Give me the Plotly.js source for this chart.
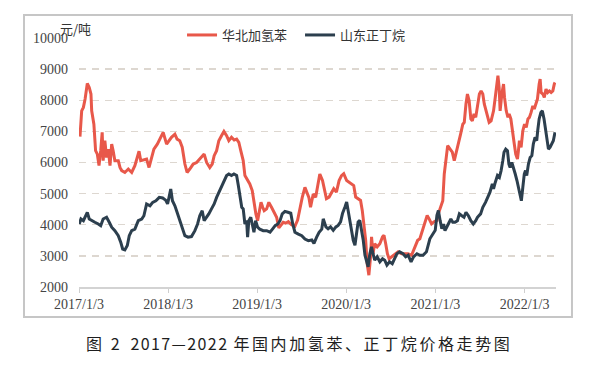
<!DOCTYPE html>
<html>
<head>
<meta charset="utf-8">
<script src="https://cdn.plot.ly/plotly-3.0.1.min.js"></script>
<style>html,body{margin:0;padding:0;background:#fff;}#chart{width:591px;height:372px;}</style>
</head>
<body>
<div id="chart"></div>
<script>
// 华北加氢苯 (North China hydrobenzene), 元/吨
const hbDates = [
"2017-01-07","2017-01-14","2017-01-21","2017-01-28","2017-02-06","2017-02-14","2017-02-21","2017-02-24","2017-03-05","2017-03-12",
"2017-03-19","2017-03-26","2017-04-02","2017-04-08","2017-04-12","2017-04-19","2017-04-26","2017-05-03","2017-05-10","2017-05-17",
"2017-05-23","2017-05-30","2017-06-13","2017-06-20","2017-06-27","2017-07-10","2017-07-24","2017-08-07","2017-08-20","2017-08-27",
"2017-09-06","2017-09-13","2017-09-23","2017-10-07","2017-10-17","2017-10-28","2017-11-06","2017-11-20","2017-12-04","2017-12-14",
"2017-12-28","2018-01-06","2018-01-17","2018-01-31","2018-02-09","2018-02-20","2018-03-02","2018-03-13","2018-03-22","2018-04-02",
"2018-04-16","2018-04-30","2018-05-20","2018-05-31","2018-06-10","2018-06-23","2018-07-03","2018-07-11","2018-07-21","2018-07-30",
"2018-08-10","2018-08-20","2018-08-31","2018-09-09","2018-09-20","2018-10-01","2018-10-11","2018-10-20","2018-10-28","2018-11-07",
"2018-11-14","2018-11-25","2018-12-04","2018-12-14","2018-12-22","2018-12-29","2019-01-05","2019-01-12","2019-01-19","2019-01-26",
"2019-02-01","2019-02-11","2019-02-20","2019-03-03","2019-03-13","2019-03-24","2019-04-02","2019-04-10","2019-04-20","2019-04-30",
"2019-05-11","2019-05-24","2019-06-07","2019-06-18","2019-06-27","2019-07-07","2019-07-18","2019-07-27","2019-08-03","2019-08-10",
"2019-08-21","2019-08-31","2019-09-08","2019-09-17","2019-09-28","2019-10-07","2019-10-14","2019-10-25","2019-11-04","2019-11-13",
"2019-11-24","2019-12-05","2019-12-15","2019-12-24","2020-01-05","2020-01-15","2020-01-25","2020-02-03","2020-02-11","2020-02-21",
"2020-03-02","2020-03-09","2020-03-16","2020-03-23","2020-03-29","2020-04-05","2020-04-12","2020-04-16","2020-04-22","2020-04-29",
"2020-05-09","2020-05-20","2020-05-31","2020-06-06","2020-06-13","2020-06-20","2020-06-27","2020-07-07","2020-07-20","2020-08-03",
"2020-08-17","2020-08-30","2020-09-13","2020-09-27","2020-10-11","2020-10-22","2020-10-31","2020-11-11","2020-11-20","2020-11-30",
"2020-12-08","2020-12-18","2020-12-27","2021-01-09","2021-01-15","2021-01-22","2021-02-02","2021-02-08","2021-02-15","2021-02-22",
"2021-03-04","2021-03-13","2021-03-21","2021-03-28","2021-04-07","2021-04-16","2021-04-25","2021-05-01","2021-05-08","2021-05-14",
"2021-05-21","2021-05-28","2021-06-03","2021-06-10","2021-06-17","2021-06-24","2021-07-02","2021-07-09","2021-07-16","2021-07-22",
"2021-08-02","2021-08-11","2021-08-19","2021-08-29","2021-09-05","2021-09-12","2021-09-16","2021-09-21","2021-09-25","2021-10-02",
"2021-10-09","2021-10-13","2021-10-20","2021-10-27","2021-11-01","2021-11-08","2021-11-16","2021-11-21","2021-11-28","2021-12-05",
"2021-12-09","2021-12-13","2021-12-20","2021-12-27","2022-01-03","2022-01-10","2022-01-17","2022-01-23","2022-01-30","2022-02-06",
"2022-02-12","2022-02-19","2022-02-25","2022-03-04","2022-03-08","2022-03-12","2022-03-19","2022-03-25","2022-04-01","2022-04-08",
"2022-04-15","2022-04-22","2022-04-29","2022-05-05","2022-05-08"
];
const hbPrices = [
6830,7660,7770,8040,8540,8410,8200,7660,7230,6380,
6270,5900,6380,6970,6060,6700,6160,6430,5900,6590,
6380,6060,6060,5840,5740,5680,5790,5680,5900,6060,
6360,6060,6080,6110,5840,6160,6430,6590,6810,6970,
6590,6700,6810,6910,6750,6700,6490,5950,5680,5790,
5950,6000,6160,6270,6000,5840,5950,6220,6380,6700,
6860,7000,6860,6700,6810,6720,6750,6650,6380,6060,
5580,5420,5310,5100,4670,4350,4130,4450,4720,4560,
4450,4510,4720,4560,4400,4240,3900,4000,4080,4050,
4100,4000,3950,4150,4560,4880,5200,4990,4880,4560,
4990,4880,5200,5630,5420,5050,4840,4890,5050,5160,
5050,5420,5580,5640,5420,5370,5320,5260,4890,4840,
4780,4460,4030,3500,2750,2380,2970,3610,3070,3390,
3290,3390,3610,3660,3390,3070,2910,2970,3070,3130,
3070,3070,3070,3020,3290,3500,3550,3820,4030,4300,
4190,4030,4090,4140,4360,4520,4770,5630,6160,6540,
6430,6330,6060,6270,6590,6910,7230,7290,7880,8200,
7980,7400,7340,7560,7450,7770,8200,8300,8200,7880,
7560,7290,7340,7660,8090,8630,8790,8410,7660,8200,
8520,8090,7660,7450,7560,7400,7020,6650,6270,6110,
6380,6700,6490,7020,7230,7130,7400,7450,7610,7820,
7720,7930,8040,8520,8680,8250,8200,8090,8360,8250,
8300,8250,8300,8520,8570
];

// 山东正丁烷 (Shandong n-butane), 元/吨
const sdDates = [
"2017-01-04","2017-01-11","2017-01-21","2017-01-28","2017-02-06","2017-02-14","2017-02-24","2017-03-09","2017-03-23","2017-04-02",
"2017-04-12","2017-04-26","2017-05-07","2017-05-17","2017-05-30","2017-06-13","2017-06-23","2017-07-01","2017-07-10","2017-07-20",
"2017-07-28","2017-08-07","2017-08-20","2017-09-03","2017-09-17","2017-09-26","2017-10-07","2017-10-21","2017-11-01","2017-11-14",
"2017-11-28","2017-12-12","2017-12-24","2018-01-01","2018-01-07","2018-01-14","2018-01-21","2018-01-31","2018-02-09","2018-02-20",
"2018-03-02","2018-03-13","2018-03-26","2018-04-09","2018-04-23","2018-05-04","2018-05-13","2018-05-23","2018-05-31","2018-06-10",
"2018-06-19","2018-06-30","2018-07-11","2018-07-21","2018-07-30","2018-08-10","2018-08-20","2018-08-31","2018-09-09","2018-09-20",
"2018-09-30","2018-10-11","2018-10-18","2018-10-25","2018-11-01","2018-11-07","2018-11-14","2018-11-21","2018-11-25","2018-11-30",
"2018-12-08","2018-12-14","2018-12-21","2018-12-28","2019-01-05","2019-01-14","2019-01-28","2019-02-11","2019-02-25","2019-03-07",
"2019-03-18","2019-03-29","2019-04-07","2019-04-16","2019-04-27","2019-05-09","2019-05-21","2019-05-29","2019-06-07","2019-06-21",
"2019-07-05","2019-07-18","2019-08-01","2019-08-15","2019-08-24","2019-09-04","2019-09-14","2019-09-25","2019-10-01","2019-10-12",
"2019-10-21","2019-10-31","2019-11-11","2019-11-22","2019-12-01","2019-12-11","2019-12-19","2019-12-29","2020-01-05","2020-01-11",
"2020-01-18","2020-01-25","2020-02-01","2020-02-08","2020-02-15","2020-02-21","2020-02-28","2020-03-06","2020-03-13","2020-03-20",
"2020-03-27","2020-04-02","2020-04-09","2020-04-16","2020-04-22","2020-04-29","2020-05-09","2020-05-20","2020-05-31","2020-06-09",
"2020-06-18","2020-06-29","2020-07-10","2020-07-20","2020-07-29","2020-08-09","2020-08-23","2020-09-03","2020-09-13","2020-09-25",
"2020-10-05","2020-10-19","2020-10-31","2020-11-13","2020-11-27","2020-12-11","2020-12-22","2021-01-02","2021-01-09","2021-01-15",
"2021-01-22","2021-01-29","2021-02-05","2021-02-11","2021-02-18","2021-02-25","2021-03-07","2021-03-15","2021-03-24","2021-04-03",
"2021-04-11","2021-04-21","2021-04-30","2021-05-08","2021-05-18","2021-05-28","2021-06-07","2021-06-17","2021-06-24","2021-07-07",
"2021-07-16","2021-07-27","2021-08-06","2021-08-14","2021-08-24","2021-08-29","2021-09-05","2021-09-14","2021-09-22","2021-09-29",
"2021-10-06","2021-10-11","2021-10-18","2021-10-25","2021-10-31","2021-11-05","2021-11-12","2021-11-19","2021-11-26","2021-12-03",
"2021-12-09","2021-12-16","2021-12-21","2021-12-27","2022-01-02","2022-01-07","2022-01-12","2022-01-19","2022-01-26","2022-02-02",
"2022-02-08","2022-02-15","2022-02-22","2022-02-26","2022-03-04","2022-03-11","2022-03-17","2022-03-24","2022-03-31","2022-04-04",
"2022-04-11","2022-04-18","2022-04-25","2022-05-01","2022-05-08"
];
const sdPrices = [
4025,4185,4130,4240,4400,4185,4130,4080,4025,3970,
4185,4240,4080,3920,3810,3650,3440,3220,3190,3330,
3650,3810,3860,4130,4185,4290,4670,4610,4720,4770,
4880,4860,4790,4670,4880,5150,4770,4610,4400,4130,
3860,3650,3600,3620,3810,4025,4290,4450,4130,4240,
4350,4510,4670,4880,5040,5200,5360,5580,5630,5580,
5630,5580,5260,4880,4560,4510,4025,4130,3600,4130,
4240,4025,3760,4130,3920,3860,3810,3810,3760,3860,
3970,4025,4130,4350,4430,4400,4370,4025,3760,3700,
3650,3540,3490,3510,3400,3600,3760,3860,4190,3930,
3870,3930,3820,3930,3980,4090,4360,4570,4730,4460,
4140,3820,3500,3340,3710,4090,4140,3820,3500,3020,
2810,2650,3070,3290,3070,2860,2970,2810,2910,2860,
2700,2810,2750,2910,3070,3130,3070,2970,3020,2810,
2970,3070,3020,3020,3130,3550,3710,3820,4300,4460,
4140,3870,4025,3810,3920,4025,4185,4080,4080,4130,
4350,4290,4240,4400,4290,4130,4025,4130,4240,4350,
4560,4720,4880,5040,5310,5150,5360,5580,5520,5740,
6060,6330,6430,6380,5950,5840,6000,5840,5630,5420,
5200,4990,4770,5200,5630,5740,5580,5950,6160,6220,
6590,6810,6700,7020,7400,7610,7660,7400,7020,6700,
6430,6490,6590,6700,6970
];

const seriesNames = ["华北加氢苯", "山东正丁烷"];
const tickDates = ["2017-01-03","2018-01-03","2019-01-03","2020-01-03","2021-01-03","2022-01-03"];
const tickLabels = ["2017/1/3","2018/1/3","2019/1/3","2020/1/3","2021/1/3","2022/1/3"];
const unitLabel = "元/吨";
const captionText = '<span style="letter-spacing:2.6px">图 </span><span style="letter-spacing:1.4px">2\u20022017—2022 </span><span style="letter-spacing:2.6px">年国内加氢苯、正丁烷价格走势图</span>';

const numFont = "Liberation Serif, DejaVu Serif, serif";
const cjkFont = "Noto Sans CJK SC, Noto Sans, sans-serif";

const traces = [
  {x: hbDates, y: hbPrices, name: seriesNames[0], type: "scatter", mode: "lines",
   line: {color: "#e8584a", width: 3}},
  {x: sdDates, y: sdPrices, name: seriesNames[1], type: "scatter", mode: "lines",
   line: {color: "#2c3f4e", width: 3}}
];

const layout = {
  width: 591, height: 372,
  margin: {l: 79, r: 35, t: 38, b: 85},
  paper_bgcolor: "#ffffff", plot_bgcolor: "#ffffff",
  showlegend: true,
  legend: {orientation: "h", x: 0.216, xanchor: "left", y: 1.012, yanchor: "middle",
           font: {family: cjkFont, size: 13, color: "#333"}, bgcolor: "rgba(0,0,0,0)",
           itemwidth: 30, entrywidth: 73, entrywidthmode: "pixels", borderwidth: 0},
  xaxis: {type: "date", range: ["2017-01-03", "2022-05-12"],
          tickmode: "array", tickvals: tickDates, ticktext: tickLabels,
          ticks: "outside", ticklen: 4, tickcolor: "#cfcfcf", tickwidth: 1,
          showline: true, linecolor: "#d3d3d3", linewidth: 1.5,
          showgrid: false, zeroline: false,
          tickfont: {family: numFont, size: 14, color: "#444"}},
  yaxis: {range: [2000, 10000], tick0: 2000, dtick: 1000, tickformat: "d",
          showgrid: true, gridcolor: "#ddd7d0", gridwidth: 1.3, griddash: "7px,6px",
          zeroline: false, showline: false, ticks: "", ticklabelstandoff: 10,
          tickfont: {family: numFont, size: 14, color: "#444"}},
  shapes: [
    {type: "rect", xref: "paper", yref: "paper", x0: -0.1153, x1: 1.0335, y0: -0.1205, y1: 1.0924,
     line: {color: "#c6c6c6", width: 2}, fillcolor: "rgba(0,0,0,0)", layer: "below"}
  ],
  annotations: [
    {xref: "paper", yref: "paper", x: -0.044, y: 1.04, xanchor: "left", yanchor: "middle",
     text: unitLabel, showarrow: false, font: {family: cjkFont, size: 13, color: "#333"}},
    {xref: "paper", yref: "paper", x: 0.4602, y: -0.2249, xanchor: "center", yanchor: "middle",
     text: captionText, showarrow: false, font: {family: cjkFont, size: 16, color: "#1e1e1e"}}
  ]
};

Plotly.newPlot("chart", traces, layout, {staticPlot: true, displayModeBar: false});
</script>
</body>
</html>
